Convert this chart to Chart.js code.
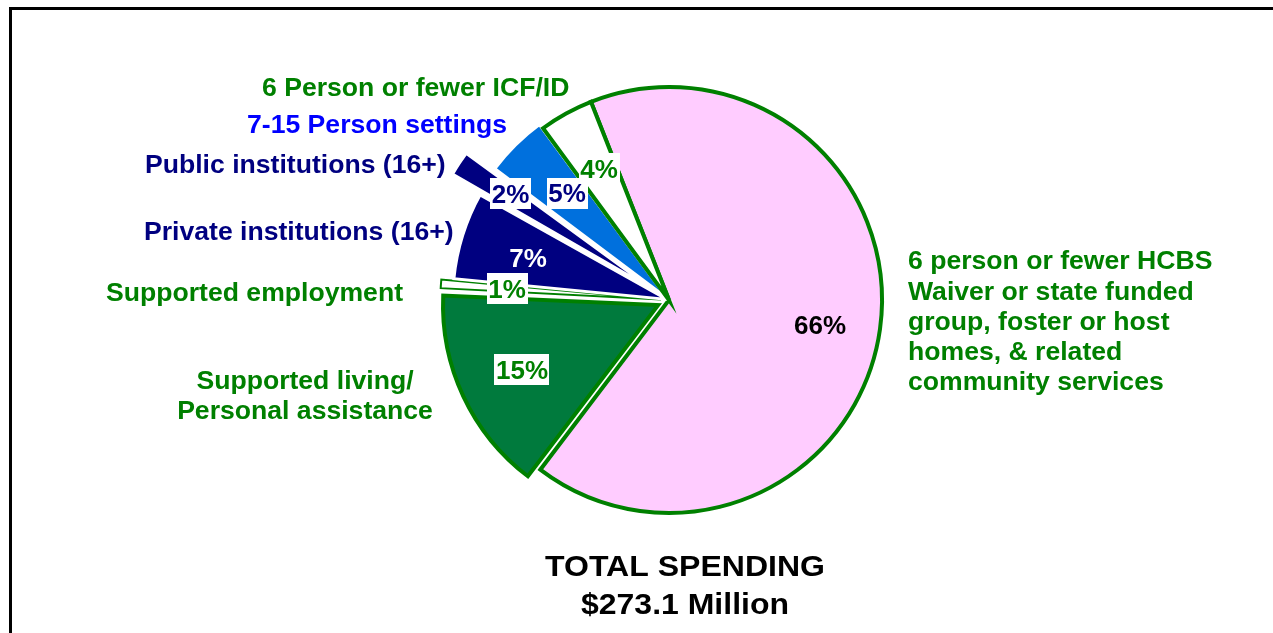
<!DOCTYPE html>
<html><head><meta charset="utf-8">
<script src="https://cdn.jsdelivr.net/npm/chart.js@4.4.1/dist/chart.umd.min.js"></script>
<style>html,body{margin:0;padding:0;background:#fff;overflow:hidden}canvas{display:block}</style>
</head><body>
<canvas id="c" width="1273" height="633"></canvas>
<script>
// ---- data ----
const categories = [
  ["6 person or fewer HCBS","Waiver or state funded","group, foster or host","homes, & related","community services"],
  ["Supported living/","Personal assistance"],
  ["Supported employment"],
  ["Private institutions (16+)"],
  ["Public institutions (16+)"],
  ["7-15 Person settings"],
  ["6 Person or fewer ICF/ID"]
];
const shares = [66.3, 15.4, 0.8, 6.6, 2.1, 4.7, 4.1];
const pctLabels = ["66%", "15%", "1%", "7%", "2%", "5%", "4%"];
const titleLines = ["TOTAL SPENDING", "$273.1 Million"];

// ---- styles ----
const FONT = '"Liberation Sans", Arial, Helvetica, sans-serif';
const fills   = ['#FFCCFF', '#007A3D', '#FFFFFF', '#000080', '#000080', '#0070DD', '#FFFFFF'];
const borders = ['#008000', '#008000', '#008000', '#FFFFFF', '#FFFFFF', '#FFFFFF', '#008000'];
const borderW = [4, 4, 2, 3, 3, 3, 4];
const offsets = [0, 48, 32, 8, 80, 12, 0];

const catStyle = [
  {color:'#008000', align:'left',   x:908, y:[269, 299.5, 329.5, 359.5, 389.5]},
  {color:'#008000', align:'center', x:305, y:[389, 419]},
  {color:'#008000', align:'left',   x:106, y:[300.5]},
  {color:'#000080', align:'left',   x:144, y:[240]},
  {color:'#000080', align:'left',   x:145, y:[172.5]},
  {color:'#0000FF', align:'left',   x:247, y:[133]},
  {color:'#008000', align:'left',   x:262, y:[96]}
];
const pctStyle = [
  {x:820, y:325,   color:'#000000', box:false},
  {x:522, y:369.5, color:'#008000', box:true},
  {x:507, y:288.5, color:'#008000', box:true},
  {x:528, y:258,   color:'#FFFFFF', box:false},
  {x:510.5, y:193.5, color:'#000080', box:true},
  {x:567, y:193,   color:'#000080', box:true},
  {x:599, y:168.5, color:'#008000', box:true}
];
const titleStyle = {x:685, y:[576, 614], w:[280, 208], size:30};

const overlay = {
  id: 'overlay',
  beforeDraw(chart) {
    const ctx = chart.ctx;
    ctx.save();
    ctx.fillStyle = '#fff';
    ctx.fillRect(0, 0, chart.width, chart.height);
    ctx.fillStyle = '#000';
    ctx.fillRect(9, 7, chart.width, 3);
    ctx.fillRect(9, 7, 3, chart.height);
    ctx.restore();
  },
  afterDatasetsDraw(chart) {
    const ctx = chart.ctx;
    ctx.save();
    ctx.font = 'bold 26.6px ' + FONT;
    ctx.textBaseline = 'alphabetic';
    categories.forEach((lines, i) => {
      const s = catStyle[i];
      ctx.fillStyle = s.color;
      ctx.textAlign = s.align;
      lines.forEach((ln, j) => ctx.fillText(ln, s.x, s.y[j]));
    });
    ctx.textAlign = 'center';
    pctLabels.forEach((t, i) => {
      const s = pctStyle[i];
      ctx.font = 'bold 26px ' + FONT;
      const w = ctx.measureText(t).width;
      if (s.box) {
        ctx.fillStyle = '#FFFFFF';
        ctx.fillRect(Math.round(s.x - w / 2 - 1.5), Math.round(s.y - 15.5), Math.round(w + 3), 31);
      }
      ctx.fillStyle = s.color;
      ctx.fillText(t, s.x, s.y + 9.4);
    });
    ctx.fillStyle = '#000';
    ctx.font = 'bold ' + titleStyle.size + 'px ' + FONT;
    titleLines.forEach((t, j) => {
      const w = ctx.measureText(t).width;
      const sx = titleStyle.w[j] / w;
      ctx.save();
      ctx.translate(titleStyle.x, titleStyle.y[j]);
      ctx.scale(sx, 1);
      ctx.textAlign = 'center';
      ctx.fillText(t, 0, 0);
      ctx.restore();
    });
    ctx.restore();
  }
};

new Chart(document.getElementById('c'), {
  type: 'pie',
  data: {
    labels: categories.map(l => l.join(' ')),
    datasets: [{
      data: shares,
      backgroundColor: fills,
      borderColor: borders,
      borderWidth: borderW,
      borderJoinStyle: 'miter',
      offset: offsets
    }]
  },
  options: {
    responsive: false,
    devicePixelRatio: 1,
    animation: false,
    rotation: -21.5,
    radius: 213,
    layout: {padding: {left: 65, right: 0, top: 0, bottom: 33}},
    plugins: {legend: {display: false}, tooltip: {enabled: false}, title: {display: false}},
    events: []
  },
  plugins: [overlay]
});
</script>
</body></html>
